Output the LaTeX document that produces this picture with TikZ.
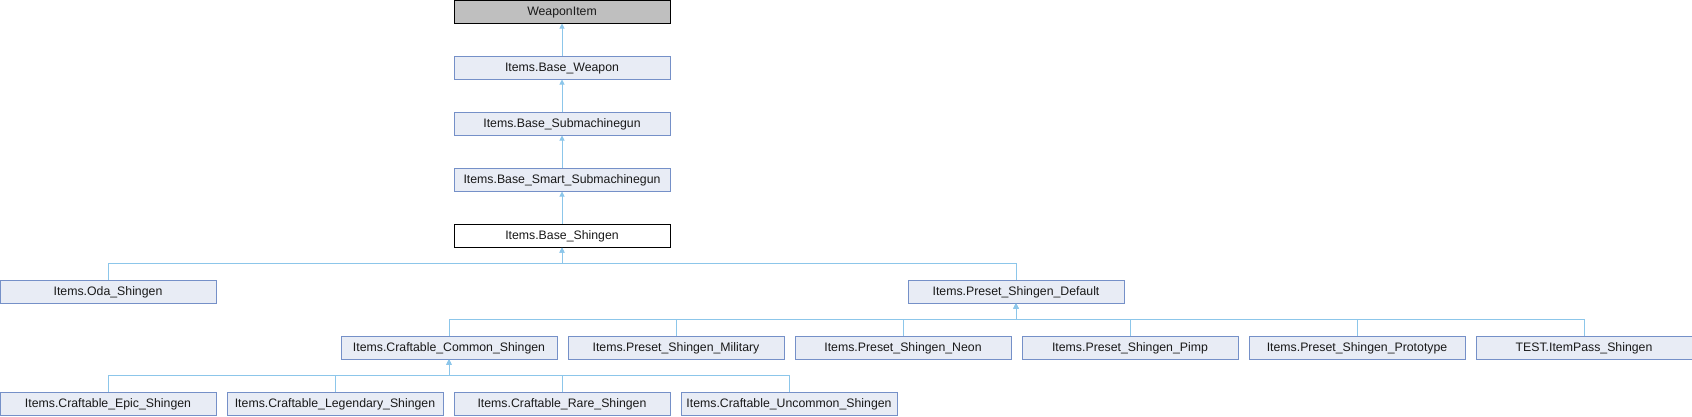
\documentclass[tikz,border=0pt]{standalone}
\usepackage{fontspec}
\setmainfont{Liberation Sans}
\usetikzlibrary{arrows.meta}
\definecolor{edgec}{HTML}{8CC6EA}
\definecolor{boxfill}{HTML}{E8ECF5}
\definecolor{boxdraw}{HTML}{7590C8}
\definecolor{rootfill}{HTML}{BFBFBF}
\tikzset{
  box/.style={draw=boxdraw, fill=boxfill, line width=1pt, minimum width=216pt, minimum height=23pt, inner sep=0pt, text height=9pt, text depth=2pt, font=\fontsize{12.3pt}{14pt}\selectfont, text=black!90},
  rootbox/.style={box, draw=black, fill=rootfill},
  focusbox/.style={box, draw=black, fill=white},
  edge/.style={draw=edgec, line width=1pt, -{Triangle[length=5pt,width=5pt]}},
}
\begin{document}
\begin{tikzpicture}[x=1pt,y=-1pt]
\useasboundingbox (0,0) rectangle (1692,416);
\node[rootbox] (wi) at (562,11.5) {WeaponItem};
\node[box] (bw) at (562,67.5) {Items.Base\_Weapon};
\node[box] (bs) at (562,123.5) {Items.Base\_Submachinegun};
\node[box] (bss) at (562,179.5) {Items.Base\_Smart\_Submachinegun};
\node[focusbox] (sh) at (562,235.5) {Items.Base\_Shingen};
\node[box] (oda) at (108,291.5) {Items.Oda\_Shingen};
\node[box] (psd) at (1016,291.5) {Items.Preset\_Shingen\_Default};
\node[box] (ccs) at (449,347.5) {Items.Craftable\_Common\_Shingen};
\node[box] (psm) at (676,347.5) {Items.Preset\_Shingen\_Military};
\node[box] (psn) at (903,347.5) {Items.Preset\_Shingen\_Neon};
\node[box] (psp) at (1130,347.5) {Items.Preset\_Shingen\_Pimp};
\node[box] (pspr) at (1357,347.5) {Items.Preset\_Shingen\_Prototype};
\node[box] (test) at (1584,347.5) {TEST.ItemPass\_Shingen};
\node[box] (ces) at (108,403.5) {Items.Craftable\_Epic\_Shingen};
\node[box] (cls) at (335,403.5) {Items.Craftable\_Legendary\_Shingen};
\node[box] (crs) at (562,403.5) {Items.Craftable\_Rare\_Shingen};
\node[box] (cus) at (789,403.5) {Items.Craftable\_Uncommon\_Shingen};
\draw[edge] (bw.north) -- (wi.south);
\draw[edge] (bs.north) -- (bw.south);
\draw[edge] (bss.north) -- (bs.south);
\draw[edge] (sh.north) -- (bss.south);
\draw[edge] (oda.north) -- ++(0,-16) -| (sh.south);
\draw[edge] (psd.north) -- ++(0,-16) -| (sh.south);
\foreach \n in {ccs,psm,psn,psp,pspr,test}
  \draw[edge] (\n.north) -- ++(0,-16) -| (psd.south);
\foreach \n in {ces,cls,crs,cus}
  \draw[edge] (\n.north) -- ++(0,-16) -| (ccs.south);
\end{tikzpicture}
\end{document}
